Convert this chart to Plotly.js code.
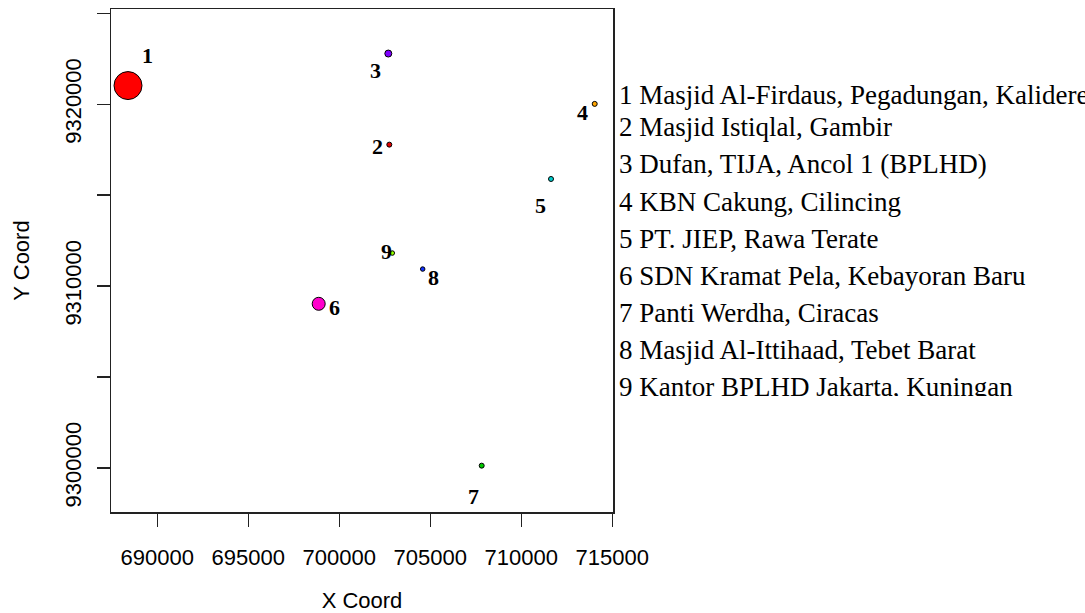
<!DOCTYPE html>
<html>
<head>
<meta charset="utf-8">
<script src="https://cdn.plot.ly/plotly-3.0.1.min.js"></script>
<style>html,body{margin:0;padding:0;background:#fff;}#chart{width:1085px;height:613px;}</style>
</head>
<body>
<div id="chart"></div>
<script>
// ---- data ----
const siteIds = ['1','2','3','4','5','6','7','8','9'];
const siteNames = [
  'Masjid Al-Firdaus, Pegadungan, Kalidere',
  'Masjid Istiqlal, Gambir',
  'Dufan, TIJA, Ancol 1 (BPLHD)',
  'KBN Cakung, Cilincing',
  'PT. JIEP, Rawa Terate',
  'SDN Kramat Pela, Kebayoran Baru',
  'Panti Werdha, Ciracas',
  'Masjid Al-Ittihaad, Tebet Barat',
  'Kantor BPLHD Jakarta, Kuningan'
];
const xCoord = [688390, 702747, 702692, 714033, 711632, 698868, 707824, 704582, 702912];
const yCoord = [9321030, 9317781, 9322792, 9320022, 9315892, 9309025, 9300121, 9310936, 9311817];
const bubbleSize = [28, 5, 7, 5, 5, 13, 5, 4.5, 4.5];
const siteColors = ['#FF0000', '#E00000', '#7F00FF', '#FFA500', '#00CCCC', '#FF00CC', '#00C800', '#1030FF', '#99FF00'];
const xTicks = [690000, 695000, 700000, 705000, 710000, 715000];
const yTicks = [9300000, 9305000, 9310000, 9315000, 9320000, 9325000];
const yTickText = ['9300000', '', '9310000', '', '9320000', ''];

// label offsets (pixels) for the point numbers
const labelDx = [19, -12, -13, -12, -11, 16, -8, 11, -6];
const labelDy = [-30, 2, 17, 9, 27, 4, 31, 8, -2];
// small vertical nudge (in line units) of the legend lines
const legendLineNudge = [0.14, 0, 0, 0, 0, 0, 0, 0, 0];

const W = 1085, H = 613;
const L = 111, R = 0, T = 9, B = 101;
const plotW = W - L - R, plotH = H - T - B;
const boxRight = 613;
const xDomEnd = (boxRight - L) / plotW;

const points = {
  type: 'scatter', mode: 'markers',
  x: xCoord, y: yCoord,
  marker: { size: bubbleSize, color: siteColors, opacity: 1, line: { color: '#000', width: 1 } },
  hoverinfo: 'skip', cliponaxis: false, xaxis: 'x', yaxis: 'y'
};

const legendText = {
  type: 'scatter', mode: 'text',
  x: siteIds.map(() => 6),
  y: siteIds.map((s, i) => Number(s) + legendLineNudge[i]),
  text: siteIds.map((s, i) => s + ' ' + siteNames[i]),
  textposition: 'middle right',
  textfont: { family: 'Liberation Serif, Times New Roman, serif', size: 27, color: '#000' },
  cliponaxis: true, hoverinfo: 'skip', xaxis: 'x2', yaxis: 'y2'
};

const annotations = siteIds.map((s, i) => ({
  x: xCoord[i], y: yCoord[i], xref: 'x', yref: 'y',
  text: '<b>' + s + '</b>', showarrow: false,
  xshift: labelDx[i], yshift: -labelDy[i],
  font: { family: 'Liberation Serif, Times New Roman, serif', size: 22, color: '#000' }
}));

const legBottomPx = 396;
const legDomBottom = (H - B - legBottomPx) / plotH;

const layout = {
  width: W, height: H,
  margin: { l: L, r: R, t: T, b: B, pad: 0 },
  paper_bgcolor: '#fff', plot_bgcolor: '#fff',
  showlegend: false,
  font: { family: 'Liberation Sans, Arial, sans-serif', size: 22, color: '#000' },
  xaxis: {
    domain: [0, xDomEnd],
    range: [687456, 715038],
    tickvals: xTicks, ticktext: xTicks.map(String),
    ticks: 'outside', ticklen: 13, tickwidth: 1.5, tickcolor: '#222',
    ticklabelstandoff: 12,
    showline: true, mirror: true, linecolor: '#222', linewidth: 1.5,
    showgrid: false, zeroline: false,
    tickfont: { family: 'Liberation Sans, Arial, sans-serif', size: 22, color: '#000' },
    title: { text: 'X Coord', standoff: 25, font: { family: 'Liberation Sans, Arial, sans-serif', size: 22, color: '#000' } }
  },
  yaxis: {
    range: [9297572, 9325242],
    tickvals: yTicks, ticktext: yTickText,
    tickangle: -90,
    ticks: 'outside', ticklen: 13, tickwidth: 1.5, tickcolor: '#222',
    ticklabelstandoff: 7,
    showline: true, mirror: true, linecolor: '#222', linewidth: 1.5,
    showgrid: false, zeroline: false,
    tickfont: { family: 'Liberation Sans, Arial, sans-serif', size: 22, color: '#000' },
    title: { text: 'Y Coord', standoff: 25, font: { family: 'Liberation Sans, Arial, sans-serif', size: 22, color: '#000' } }
  },
  xaxis2: {
    domain: [xDomEnd, 1], range: [0, W - boxRight], anchor: 'y2',
    visible: false, showgrid: false, zeroline: false
  },
  yaxis2: {
    domain: [legDomBottom, 1], range: [9.175, -1.244], anchor: 'x2',
    visible: false, showgrid: false, zeroline: false
  },
  annotations: annotations
};

Plotly.newPlot('chart', [points, legendText], layout, { displayModeBar: false, staticPlot: true });
</script>
</body>
</html>
